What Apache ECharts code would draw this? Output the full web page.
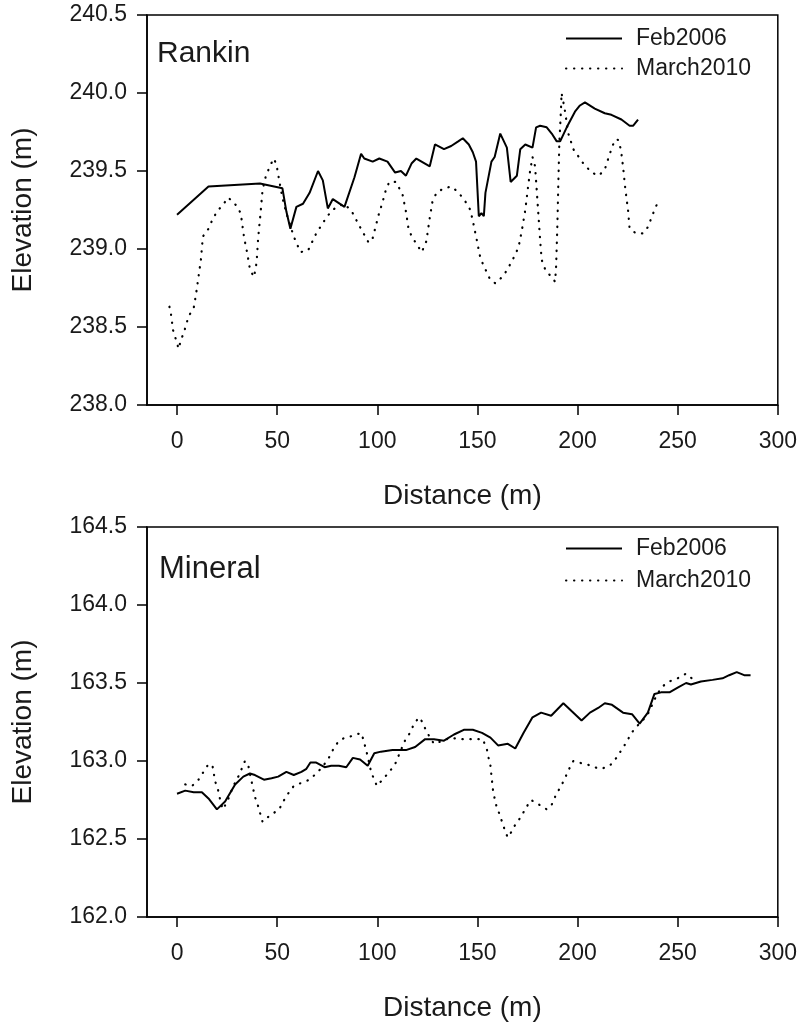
<!DOCTYPE html>
<html>
<head>
<meta charset="utf-8">
<script src="https://cdn.jsdelivr.net/npm/echarts@6/dist/echarts.min.js"></script>
<style>html,body{margin:0;padding:0;background:#fff}#c{width:800px;height:1027px}</style>
</head>
<body>
<div id="c"></div>
<script>
const xTicks = [0, 50, 100, 150, 200, 250, 300];
const seriesNames = ['Feb2006', 'March2010'];

const rankinFebX = [0, 15.7, 41.4, 52.6, 54.6, 56.6, 59.6, 62.9, 66.2, 70.4, 72.8, 75.3, 77.8, 83.6, 88.6, 91.9, 93.5, 97.7, 101, 105.1, 108.9, 111.8, 114.3, 117.2, 119.5, 126.2, 128.8, 133.3, 136.9, 140.4, 142.7, 145.7, 147.7, 149.3, 150.7, 152, 153.2, 154, 157, 158.6, 161.4, 164.7, 166.6, 169.7, 171.4, 173.9, 177.5, 179.3, 181.3, 184.6, 187.1, 189.6, 191.3, 194.6, 198.7, 201.2, 203.7, 208.6, 213.6, 216.9, 221.9, 226, 227.7, 230.2];
const rankinFebY = [239.22, 239.40, 239.42, 239.39, 239.24, 239.13, 239.27, 239.29, 239.36, 239.50, 239.44, 239.26, 239.32, 239.27, 239.46, 239.61, 239.58, 239.56, 239.58, 239.56, 239.49, 239.50, 239.47, 239.55, 239.58, 239.53, 239.67, 239.64, 239.66, 239.69, 239.71, 239.67, 239.62, 239.56, 239.21, 239.23, 239.21, 239.36, 239.56, 239.59, 239.74, 239.65, 239.43, 239.47, 239.64, 239.67, 239.65, 239.78, 239.79, 239.78, 239.74, 239.69, 239.69, 239.78, 239.88, 239.92, 239.94, 239.90, 239.87, 239.86, 239.83, 239.79, 239.79, 239.83];

const rankinMarX = [-3.8, -3, -2, -0.8, 0.8, 2, 3.3, 5.8, 8.3, 9.6, 10.7, 11.9, 12.9, 15.7, 17.4, 19.9, 22.7, 25.6, 29.5, 31.8, 33.4, 35.1, 36.4, 38.4, 39.7, 40.5, 41.7, 42.7, 44.4, 46.7, 48.3, 49.7, 51, 52.6, 54.6, 58.3, 61.6, 65.4, 69.5, 74.5, 77.5, 83.1, 86.9, 91.4, 95.7, 97.7, 100.7, 102.6, 104.3, 106, 109.3, 112.6, 114.3, 115.6, 117.2, 119.2, 122.2, 124.5, 126.2, 127.5, 129.5, 133.3, 137.1, 140.7, 144.2, 146.5, 148.2, 149.8, 151.5, 153.6, 156.5, 159, 163.1, 167.2, 170.5, 172.2, 173.9, 175.2, 176.3, 177.5, 178.8, 179.6, 180.5, 181.3, 182.1, 184.1, 187.1, 188.8, 189.3, 189.9, 190.4, 190.9, 191.7, 192, 193.4, 195.4, 197.9, 202.8, 207, 210.6, 213.6, 216.1, 218.6, 220.2, 221.6, 222.7, 223.9, 225.2, 226, 229.3, 232.6, 235.1, 238.4, 240.1];
const rankinMarY = [238.63, 238.58, 238.48, 238.43, 238.36, 238.42, 238.46, 238.57, 238.62, 238.72, 238.82, 238.93, 239.08, 239.13, 239.18, 239.24, 239.28, 239.33, 239.28, 239.23, 239.08, 238.97, 238.87, 238.82, 238.91, 239.07, 239.23, 239.38, 239.47, 239.54, 239.58, 239.54, 239.44, 239.33, 239.23, 239.08, 238.98, 238.99, 239.10, 239.20, 239.25, 239.29, 239.25, 239.14, 239.04, 239.07, 239.22, 239.30, 239.38, 239.43, 239.43, 239.35, 239.24, 239.13, 239.08, 239.04, 238.98, 239.05, 239.20, 239.30, 239.36, 239.39, 239.40, 239.36, 239.30, 239.25, 239.15, 239.05, 238.94, 238.88, 238.80, 238.78, 238.83, 238.92, 239.01, 239.12, 239.25, 239.39, 239.50, 239.59, 239.53, 239.38, 239.21, 239.06, 238.93, 238.86, 238.82, 238.79, 238.89, 239.14, 239.42, 239.68, 239.89, 240.00, 239.91, 239.74, 239.64, 239.55, 239.49, 239.47, 239.51, 239.61, 239.70, 239.70, 239.64, 239.53, 239.38, 239.25, 239.13, 239.10, 239.10, 239.14, 239.25, 239.30];

const mineralFebX = [0, 4.1, 8.3, 12.4, 15.7, 19.9, 24, 29, 33.1, 36.4, 38.9, 43.4, 47.2, 50.5, 54.6, 58.3, 62.1, 64.6, 66.6, 69.5, 73.7, 77, 80.8, 84.5, 87.8, 91.4, 95.2, 98.5, 101.8, 107.6, 114.3, 118.9, 123.9, 128.3, 133.3, 138.3, 143.2, 147.7, 152.3, 156.5, 160.3, 165.2, 168.9, 173, 177.5, 181.8, 186.8, 192.9, 197, 202, 206.2, 210.3, 213.6, 217.2, 222.7, 227.2, 231, 235.1, 238.4, 241.7, 245.9, 250, 254.2, 256.6, 261.6, 267.4, 272.4, 275.7, 279.5, 283.2, 286.4];
const mineralFebY = [162.79, 162.81, 162.80, 162.80, 162.76, 162.69, 162.74, 162.85, 162.90, 162.92, 162.91, 162.88, 162.89, 162.90, 162.93, 162.91, 162.93, 162.95, 162.99, 162.99, 162.96, 162.97, 162.97, 162.96, 163.02, 163.01, 162.97, 163.05, 163.06, 163.07, 163.07, 163.09, 163.14, 163.14, 163.13, 163.17, 163.20, 163.20, 163.18, 163.15, 163.10, 163.11, 163.08, 163.18, 163.28, 163.31, 163.29, 163.37, 163.32, 163.26, 163.31, 163.34, 163.37, 163.36, 163.31, 163.30, 163.24, 163.31, 163.43, 163.44, 163.44, 163.47, 163.50, 163.49, 163.51, 163.52, 163.53, 163.55, 163.57, 163.55, 163.55];

const mineralMarX = [4.1, 7.5, 10.7, 13.2, 15.7, 17.7, 19, 20.4, 21.2, 22.8, 25.1, 28.1, 30.6, 32.3, 33.9, 35.6, 37.2, 38.9, 40.5, 42.7, 46.3, 51, 53, 55.4, 58.3, 62.1, 66.2, 69.5, 72.5, 75.8, 77.8, 80.3, 83.6, 87.4, 91.9, 93, 94, 95.2, 96.9, 98.5, 99.8, 102.6, 106, 108.9, 111.8, 113.8, 116.3, 118.4, 120.9, 122.5, 124.5, 128.3, 132.8, 136.6, 140.7, 144.9, 149, 152.7, 154.8, 155.6, 156.5, 157.3, 157.8, 158.6, 159.5, 161, 162.3, 163.6, 165.1, 167.2, 169.2, 171.7, 174.2, 176.8, 180.8, 184.6, 187.1, 189.1, 191.3, 193.4, 195.4, 197.9, 200.4, 204.5, 208.3, 211.9, 216.1, 219.4, 221.9, 224.4, 226.9, 230.2, 233.2, 235.5, 237.6, 239.8, 242.6, 245.9, 250, 254.2, 258];
const mineralMarY = [162.85, 162.84, 162.88, 162.93, 162.98, 162.97, 162.87, 162.82, 162.77, 162.69, 162.74, 162.84, 162.90, 162.95, 163.00, 162.97, 162.87, 162.77, 162.71, 162.61, 162.65, 162.69, 162.74, 162.79, 162.84, 162.86, 162.88, 162.92, 162.96, 163.02, 163.07, 163.12, 163.15, 163.16, 163.18, 163.14, 163.09, 163.03, 162.93, 162.88, 162.84, 162.88, 162.93, 162.98, 163.07, 163.13, 163.18, 163.24, 163.28, 163.25, 163.19, 163.11, 163.13, 163.15, 163.14, 163.14, 163.14, 163.14, 163.07, 163.02, 162.97, 162.87, 162.81, 162.76, 162.71, 162.66, 162.61, 162.56, 162.51, 162.55, 162.60, 162.64, 162.70, 162.75, 162.72, 162.69, 162.72, 162.78, 162.83, 162.88, 162.94, 163.00, 162.99, 162.98, 162.96, 162.95, 162.97, 163.02, 163.07, 163.12, 163.18, 163.23, 163.27, 163.31, 163.37, 163.43, 163.48, 163.51, 163.53, 163.56, 163.52];

const FONT = '"Liberation Sans", Arial, sans-serif';
const TXT = '#1a1a1a';
const zip = (xs, ys) => xs.map((x, i) => [x, ys[i]]);

function xAxisCfg(gi) {
  return {
    type: 'value', gridIndex: gi, min: -15, max: 300,
    name: 'Distance (m)', nameLocation: 'middle', nameGap: 77,
    nameTextStyle: { fontFamily: FONT, fontSize: 28, color: TXT },
    axisLine: { show: true, onZero: false, lineStyle: { color: '#000', width: 1.5 } },
    axisTick: { show: true, length: 10, customValues: xTicks, lineStyle: { color: '#000', width: 1.5 } },
    axisLabel: { customValues: xTicks, margin: 25, fontFamily: FONT, fontSize: 23, color: TXT },
    splitLine: { show: false }
  };
}
function yAxisCfg(gi, mn, mx) {
  return {
    type: 'value', gridIndex: gi, min: mn, max: mx, interval: 0.5,
    name: 'Elevation (m)', nameLocation: 'middle', nameGap: 110,
    nameTextStyle: { fontFamily: FONT, fontSize: 28, color: TXT },
    axisLine: { show: true, onZero: false, lineStyle: { color: '#000', width: 1.5 } },
    axisTick: { show: true, length: 10, lineStyle: { color: '#000', width: 1.5 } },
    axisLabel: { margin: 20, fontFamily: FONT, fontSize: 23, color: TXT, formatter: v => v.toFixed(1) },
    splitLine: { show: false }
  };
}
function solid(name, gi, data) {
  return { name, type: 'line', xAxisIndex: gi, yAxisIndex: gi, data, symbol: 'none', animation: false,
    lineStyle: { color: '#000', width: 2, type: 'solid' }, itemStyle: { color: '#000' } };
}
function dotted(name, gi, data) {
  return { name, type: 'line', xAxisIndex: gi, yAxisIndex: gi, data, symbol: 'none', animation: false,
    lineStyle: { color: '#000', width: 2.2, type: [0.4, 7.6], cap: 'round' }, itemStyle: { color: '#000' } };
}
function legendCfg(top, gap) {
  return { data: seriesNames, orient: 'vertical', left: 565, top, padding: 0, itemWidth: 56, itemHeight: 14, itemGap: gap,
    selectedMode: false, itemStyle: { opacity: 0 },
    textStyle: { fontFamily: FONT, fontSize: 23, color: TXT, padding: [0, 0, 0, 9] } };
}

const chart = echarts.init(document.getElementById('c'), null, { renderer: 'canvas' });
chart.setOption({
  backgroundColor: '#fff',
  animation: false,
  title: [
    { text: 'Rankin', left: 157, top: 39, padding: 0, textStyle: { fontFamily: FONT, fontSize: 30, fontWeight: 'normal', color: TXT } },
    { text: 'Mineral', left: 159, top: 554, padding: 0, textStyle: { fontFamily: FONT, fontSize: 31, fontWeight: 'normal', color: TXT } }
  ],
  legend: [legendCfg(27, 7), legendCfg(537, 9)],
  grid: [
    { left: 147, top: 15, width: 634, height: 390, show: true, borderColor: '#000', borderWidth: 1.5, backgroundColor: 'transparent' },
    { left: 147, top: 527, width: 634, height: 390, show: true, borderColor: '#000', borderWidth: 1.5, backgroundColor: 'transparent' }
  ],
  xAxis: [xAxisCfg(0), xAxisCfg(1)],
  yAxis: [yAxisCfg(0, 238, 240.5), yAxisCfg(1, 162, 164.5)],
  series: [
    solid('Feb2006', 0, zip(rankinFebX, rankinFebY)),
    dotted('March2010', 0, zip(rankinMarX, rankinMarY)),
    solid('Feb2006', 1, zip(mineralFebX, mineralFebY)),
    dotted('March2010', 1, zip(mineralMarX, mineralMarY))
  ]
});
</script>
</body>
</html>
